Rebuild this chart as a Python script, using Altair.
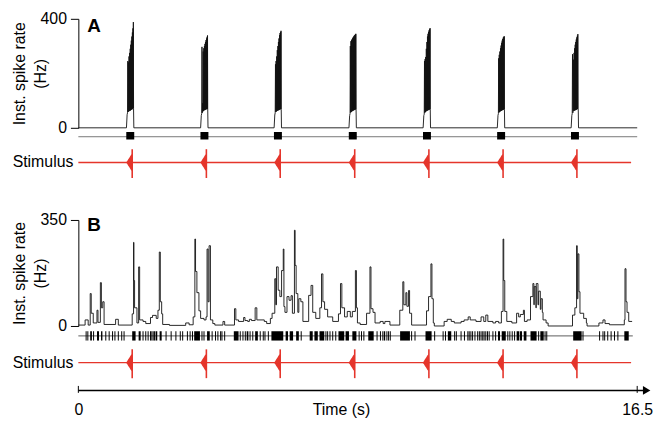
import altair as alt
import pandas as pd

FONT = "Liberation Sans"
RED = "#e5352b"
W = 564

# ---------------- data ----------------
panel_labels = ["A", "B"]
stim_label = ["Stimulus"]
time_ticks = [0, 16.5]
time_title = "Time (s)"
rate_title = ["Inst. spike rate", "(Hz)"]

# Panel A: burst onsets (s); every burst is a list of instantaneous rates (Hz)
a_burst_onsets = [1.42, 3.61, 5.78, 7.99, 10.18, 12.37, 14.55]
burst_offsets = [0.000, 0.020, 0.032, 0.040, 0.050, 0.058, 0.068, 0.076, 0.086,
                 0.094, 0.104, 0.112, 0.120, 0.128, 0.136, 0.144, 0.152, 0.160,
                 0.168, 0.176, 0.184, 0.192, 0.198, 0.204, 0.210, 0.218]
a_burst_rates = [
    [0, 48, 55, 245, 58, 240, 60, 262, 62, 275, 63, 290, 64, 305, 66, 320, 67, 335, 68, 350, 70, 365, 72, 388, 70, 0],
    [0, 45, 52, 297, 55, 90, 60, 280, 62, 292, 64, 300, 65, 308, 66, 315, 67, 322, 68, 328, 69, 334, 70, 339, 70, 0],
    [0, 47, 55, 233, 58, 245, 60, 262, 62, 285, 63, 300, 64, 315, 65, 328, 66, 340, 67, 348, 68, 352, 69, 356, 68, 0],
    [0, 45, 52, 300, 56, 318, 58, 322, 60, 326, 62, 330, 63, 333, 64, 336, 65, 339, 66, 341, 67, 343, 68, 345, 68, 0],
    [0, 45, 50, 245, 55, 252, 58, 260, 60, 290, 62, 315, 63, 335, 64, 345, 65, 352, 66, 358, 67, 362, 68, 366, 67, 0],
    [0, 46, 52, 255, 56, 268, 58, 280, 60, 292, 62, 302, 63, 312, 64, 320, 65, 326, 66, 331, 67, 334, 68, 336, 67, 0],
    [0, 45, 52, 270, 55, 60, 250, 62, 275, 63, 292, 64, 305, 65, 315, 66, 324, 67, 332, 68, 338, 69, 344, 70, 68, 0],
]
a_burst_duration = 0.23
a_trace_end = 16.5

# Panel B: instantaneous rate (step trace)
b_t = [0.00, 0.20, 0.29, 0.35, 0.38, 0.44, 0.55, 0.58, 0.65, 0.68, 0.72, 0.76, 1.10, 1.18, 1.59, 1.63,
       1.64, 1.66, 1.73, 1.78, 1.81, 1.91, 1.99, 2.13, 2.19, 2.30, 2.35, 2.39, 2.42, 2.46, 2.49, 2.69,
       3.17, 3.27, 3.39, 3.44, 3.46, 3.50, 3.56, 3.61, 3.71, 3.77, 3.80, 3.83, 3.86, 3.90, 3.97, 4.03,
       4.27, 4.32, 4.61, 4.65, 4.73, 4.88, 4.92, 5.00, 5.05, 5.11, 5.22, 5.27,
       5.49, 5.56, 5.67, 5.72, 5.80, 5.83, 5.85, 5.90, 5.95, 6.00, 6.05, 6.07, 6.10, 6.16, 6.22, 6.28,
       6.32, 6.38, 6.40, 6.43, 6.48, 6.51, 6.57, 6.63, 6.80, 6.87, 6.92, 7.01, 7.13, 7.18, 7.22, 7.27,
       7.36, 7.51, 7.68, 7.74, 7.78, 7.86, 7.94, 8.03,
       8.09, 8.18, 8.21, 8.24, 8.32, 8.51, 8.61, 8.64, 8.70, 8.76, 8.91, 9.00, 9.05, 9.20, 9.49, 9.58,
       9.61, 9.67, 9.70, 9.75, 9.78, 9.84, 10.28, 10.34, 10.41, 10.44, 10.48, 10.51,
       10.80, 10.89, 11.01, 11.10, 11.30, 11.39, 11.51, 11.57, 11.74, 11.89, 11.97, 12.03, 12.09, 12.24,
       12.32, 12.41,
       12.49, 12.54, 12.56, 12.59, 12.65, 12.80, 12.94, 13.00, 13.05, 13.14, 13.17, 13.25, 13.35, 13.42,
       13.45, 13.46, 13.51, 13.52, 13.57, 13.59, 13.64, 13.66, 13.70, 13.72, 13.81, 13.87,
       14.59, 14.66, 14.71, 14.73, 14.75, 14.78, 14.81, 14.92, 15.00, 15.02, 15.37, 15.49, 15.55, 15.68,
       16.12, 16.14, 16.17, 16.20, 16.25, 16.35]
b_rate = [3, 20, 3, 107, 42, 10, 52, 12, 143, 60, 80, 5, 22, 3, 40, 276,
          150, 60, 10, 195, 20, 15, 8, 28, 35, 25, 52, 244, 80, 40, 5, 2,
          10, 4, 30, 287, 180, 110, 50, 25, 20, 30, 254, 80, 265, 20, 8, 3,
          15, 3, 57, 20, 15, 28, 18, 15, 22, 18, 60, 20,
          15, 8, 25, 42, 156, 70, 195, 118, 97, 183, 254, 64, 45, 97, 85, 100,
          42, 316, 200, 107, 45, 90, 80, 15, 101, 134, 45, 25, 60, 172, 80, 55,
          30, 15, 40, 140, 60, 30, 48, 30,
          48, 183, 60, 10, 5, 42, 195, 57, 45, 10, 15, 8, 15, 3, 52, 146,
          70, 110, 65, 117, 42, 3, 50, 97, 205, 90, 10, 0,
          15, 22, 15, 10, 15, 20, 30, 20, 15, 30, 15, 36, 15, 10,
          15, 10,
          48, 287, 150, 48, 15, 10, 42, 30, 38, 52, 15, 20, 97, 140,
          70, 130, 60, 140, 70, 115, 55, 90, 45, 20, 10, 0,
          36, 60, 265, 90, 238, 113, 42, 25, 10, 0, 10, 20, 8, 4,
          20, 189, 80, 45, 15, 15]

# Panel B raster: isolated spikes and dense spike runs (s)
b_spikes = [0.23, 0.28, 0.45, 0.81, 0.91, 1.01, 1.08, 1.18, 1.28, 1.35, 1.91, 1.99, 2.06, 2.13,
            2.17, 2.21, 2.25, 2.59, 2.74, 2.88, 3.01, 3.08, 3.22, 3.30, 3.37, 3.65, 3.71, 3.95,
            4.05, 4.12, 4.20, 4.24, 4.32, 4.78, 4.86, 4.93, 5.07, 5.15, 5.37, 5.46, 5.51, 5.61,
            6.58, 7.31, 7.36, 7.43, 7.51, 7.60, 8.29, 8.36, 8.43, 8.82, 8.92, 8.99, 9.11, 9.16,
            9.21, 9.84, 9.94, 10.52, 10.77, 10.84, 11.11, 11.16, 11.30, 11.40, 11.50, 11.54,
            11.59, 11.64, 11.71, 11.79, 11.84, 11.89, 11.94, 11.98, 12.03, 12.08, 12.13, 12.24,
            12.32, 12.68, 12.74, 12.81, 12.88, 13.59, 13.78, 13.83, 14.90, 15.39, 15.49, 15.54,
            15.63, 15.73, 15.83, 15.93]
b_run_start = [0.35, 0.55, 0.67, 1.59, 1.78, 2.28, 2.40, 3.42, 3.80, 4.59, 4.97, 5.22, 5.70,
               6.12, 6.24, 6.43, 6.83, 6.97, 7.12, 7.68, 7.89, 8.09, 8.56, 9.02, 9.50, 10.25,
               10.91, 12.39, 12.50, 12.94, 13.03, 13.15, 13.35, 13.64, 14.61, 16.12]
b_run_end = [0.40, 0.61, 0.71, 1.69, 1.84, 2.33, 2.46, 3.59, 3.88, 4.73, 5.02, 5.30, 6.05,
             6.19, 6.34, 6.51, 6.92, 7.07, 7.26, 7.85, 7.99, 8.21, 8.72, 9.06, 9.79, 10.43,
             11.01, 12.45, 12.62, 13.01, 13.10, 13.23, 13.53, 13.74, 14.86, 16.25]
b_trace_end = 16.37

# Stimulus: peak times (s) and waveform envelope around each peak
stim_peaks = [1.59, 3.78, 5.96, 8.16, 10.35, 12.54, 14.72]
stim_env_offset = [-0.184, -0.15, -0.117, -0.08, -0.047, -0.02, -0.008, 0.004, 0.012]
stim_env_amp = [0.0, 0.08, 0.2, 0.3, 0.42, 0.48, 0.5, 0.3, 0.0]
stim_spike_top = 0.79
stim_spike_bottom = -0.92
stim_end = 16.32

# ---------------- frames ----------------
rows = [(0.0, 0.0)]
for onset, rates in zip(a_burst_onsets, a_burst_rates):
    for off, r in zip(burst_offsets, rates):
        rows.append((round(onset + off, 4), r))
rows.append((a_trace_end, 0.0))
a_df = pd.DataFrame(rows, columns=["t", "rate"])
a_blocks = pd.DataFrame({"s": [o - 0.005 for o in a_burst_onsets],
                         "e": [o + a_burst_duration for o in a_burst_onsets]})
b_df = pd.DataFrame({"t": b_t, "rate": b_rate})
b_spk = pd.DataFrame({"t": b_spikes})
b_runs = pd.DataFrame({"s": b_run_start, "e": b_run_end})

env_rows = []
for i, p in enumerate(stim_peaks):
    for off, a in zip(stim_env_offset, stim_env_amp):
        env_rows.append((i, p + off, a, -a))
env_df = pd.DataFrame(env_rows, columns=["stim", "t", "hi", "lo"])
peaks_df = pd.DataFrame({"t": stim_peaks})

xs = alt.Scale(domain=[0, 16.5], nice=False, zero=False)
unit = alt.Scale(domain=[-1, 1], nice=False, zero=False)


def X(field):
    return alt.X(f"{field}:Q", scale=xs, axis=None)


def rate_axis(top, h):
    return alt.Axis(values=[0, top], format="d", grid=False, domainColor="black",
                    domainWidth=1, tickColor="black", tickSize=8, tickWidth=1,
                    labelFontSize=16, labelColor="black", labelPadding=4, labelFont=FONT,
                    labelFlush=False, labelOverlap=False,
                    title=rate_title, titleFontSize=16, titleFontWeight="normal",
                    titleColor="black", titleFont=FONT, titleAngle=270, titleX=-51,
                    titleY=h / 2, titleAlign="center", titleBaseline="bottom",
                    titleLineHeight=21)


def letter(i, ypos):
    return alt.Chart(pd.DataFrame({"lab": [panel_labels[i]]})).mark_text(
        fontSize=19, fontWeight="bold", align="left", baseline="alphabetic",
        font=FONT, color="black").encode(x=alt.value(9), y=alt.value(ypos), text="lab:N")


def stim_panel():
    line = alt.Chart(pd.DataFrame({"t0": [0.0], "t1": [stim_end]})).mark_rule(
        color=RED, strokeWidth=1.3).encode(x=X("t0"), x2="t1:Q", y=alt.YDatum(0, axis=None))
    env = alt.Chart(env_df).mark_area(color=RED, opacity=1).encode(
        x=X("t"), y=alt.Y("hi:Q", scale=unit, axis=None), y2="lo:Q", detail="stim:N")
    spike = alt.Chart(peaks_df).mark_rule(color=RED, strokeWidth=1.6).encode(
        x=X("t"), y=alt.YDatum(stim_spike_top, axis=None), y2=alt.datum(stim_spike_bottom))
    lab = alt.Chart(pd.DataFrame({"lab": stim_label})).mark_text(
        fontSize=16, align="right", baseline="middle", font=FONT, color="black").encode(
        x=alt.value(-5), y=alt.YDatum(0, axis=None), text="lab:N")
    return alt.layer(env, line, spike, lab).properties(width=W, height=34)


# Row 1: panel A rate
r1 = alt.layer(
    alt.Chart(a_df).mark_line(color="#111", strokeWidth=0.9).encode(
        x=X("t"), y=alt.Y("rate:Q", scale=alt.Scale(domain=[0, 400], nice=False, zero=False),
                          axis=rate_axis(400, 110))),
    letter(0, 13.5),
).properties(width=W, height=110)

# Row 2: panel A raster
r2 = alt.layer(
    alt.Chart(pd.DataFrame({"t0": [0.0], "t1": [a_trace_end]})).mark_rule(
        color="#777", strokeWidth=1).encode(
        x=X("t0"), x2="t1:Q", y=alt.YDatum(0, scale=unit, axis=None)),
    alt.Chart(a_blocks).mark_rect(color="black").encode(
        x=X("s"), x2="e:Q", y=alt.YDatum(-0.31, axis=None), y2=alt.datum(0.53)),
).properties(width=W, height=18)

r3 = stim_panel()

# Row 4: spacer
r4 = alt.Chart(pd.DataFrame({"t": [0.0]})).mark_point(opacity=0).encode(
    x=X("t"), y=alt.value(0)).properties(width=W, height=41)

# Row 5: panel B rate
r5 = alt.layer(
    alt.Chart(b_df).mark_line(color="#111", strokeWidth=0.9, interpolate="step-after").encode(
        x=X("t"), y=alt.Y("rate:Q", scale=alt.Scale(domain=[0, 350], nice=False, zero=False),
                          axis=rate_axis(350, 107))),
    letter(1, 11.5),
).properties(width=W, height=107)

# Row 6: panel B raster
r6 = alt.layer(
    alt.Chart(pd.DataFrame({"t0": [0.0], "t1": [b_trace_end]})).mark_rule(
        color="#333", strokeWidth=0.8).encode(
        x=X("t0"), x2="t1:Q", y=alt.YDatum(0, scale=unit, axis=None)),
    alt.Chart(b_spk).mark_rule(color="black", strokeWidth=1).encode(
        x=X("t"), y=alt.YDatum(-0.47, axis=None), y2=alt.datum(0.47)),
    alt.Chart(b_runs).mark_rect(color="black").encode(
        x=X("s"), x2="e:Q", y=alt.YDatum(-0.47, axis=None), y2=alt.datum(0.47)),
).properties(width=W, height=20)

r7 = stim_panel()

# Row 8: time axis
time_axis = alt.Axis(values=time_ticks, format=".3~g", domain=False, ticks=False, tickSize=0,
                     grid=False, labelFontSize=16, labelColor="black", labelFont=FONT,
                     labelPadding=24, labelBaseline="alphabetic", labelFlush=False,
                     title=time_title, titleFontSize=16, titleFontWeight="normal",
                     titleColor="black", titleFont=FONT, titleX=265, titleY=24,
                     titleBaseline="alphabetic", titleAlign="center")
r8 = alt.layer(
    alt.Chart(pd.DataFrame({"t0": [0.0], "t1": [16.72]})).mark_rule(
        color="black", strokeWidth=1.5).encode(
        x=alt.X("t0:Q", scale=xs, axis=time_axis), x2="t1:Q", y=alt.value(11)),
    alt.Chart(pd.DataFrame({"t": time_ticks})).mark_rule(color="black", strokeWidth=1).encode(
        x="t:Q", y=alt.value(6.5), y2=alt.value(13.5)),
    alt.Chart(pd.DataFrame({"t": [16.78]})).mark_point(
        shape="triangle-right", filled=True, size=75, color="black", opacity=1).encode(
        x="t:Q", y=alt.value(11)),
).properties(width=W, height=11)

chart = alt.vconcat(r1, r2, r3, r4, r5, r6, r7, r8, spacing=0, bounds="flush").resolve_scale(
    x="independent", y="independent"
).properties(
    padding={"left": 4, "top": 1, "right": 5, "bottom": 5}
).configure(font=FONT).configure_view(strokeWidth=0, stroke="transparent").configure_axis(grid=False)

chart.save("out.html", embed_options={"renderer": "svg", "actions": False})
